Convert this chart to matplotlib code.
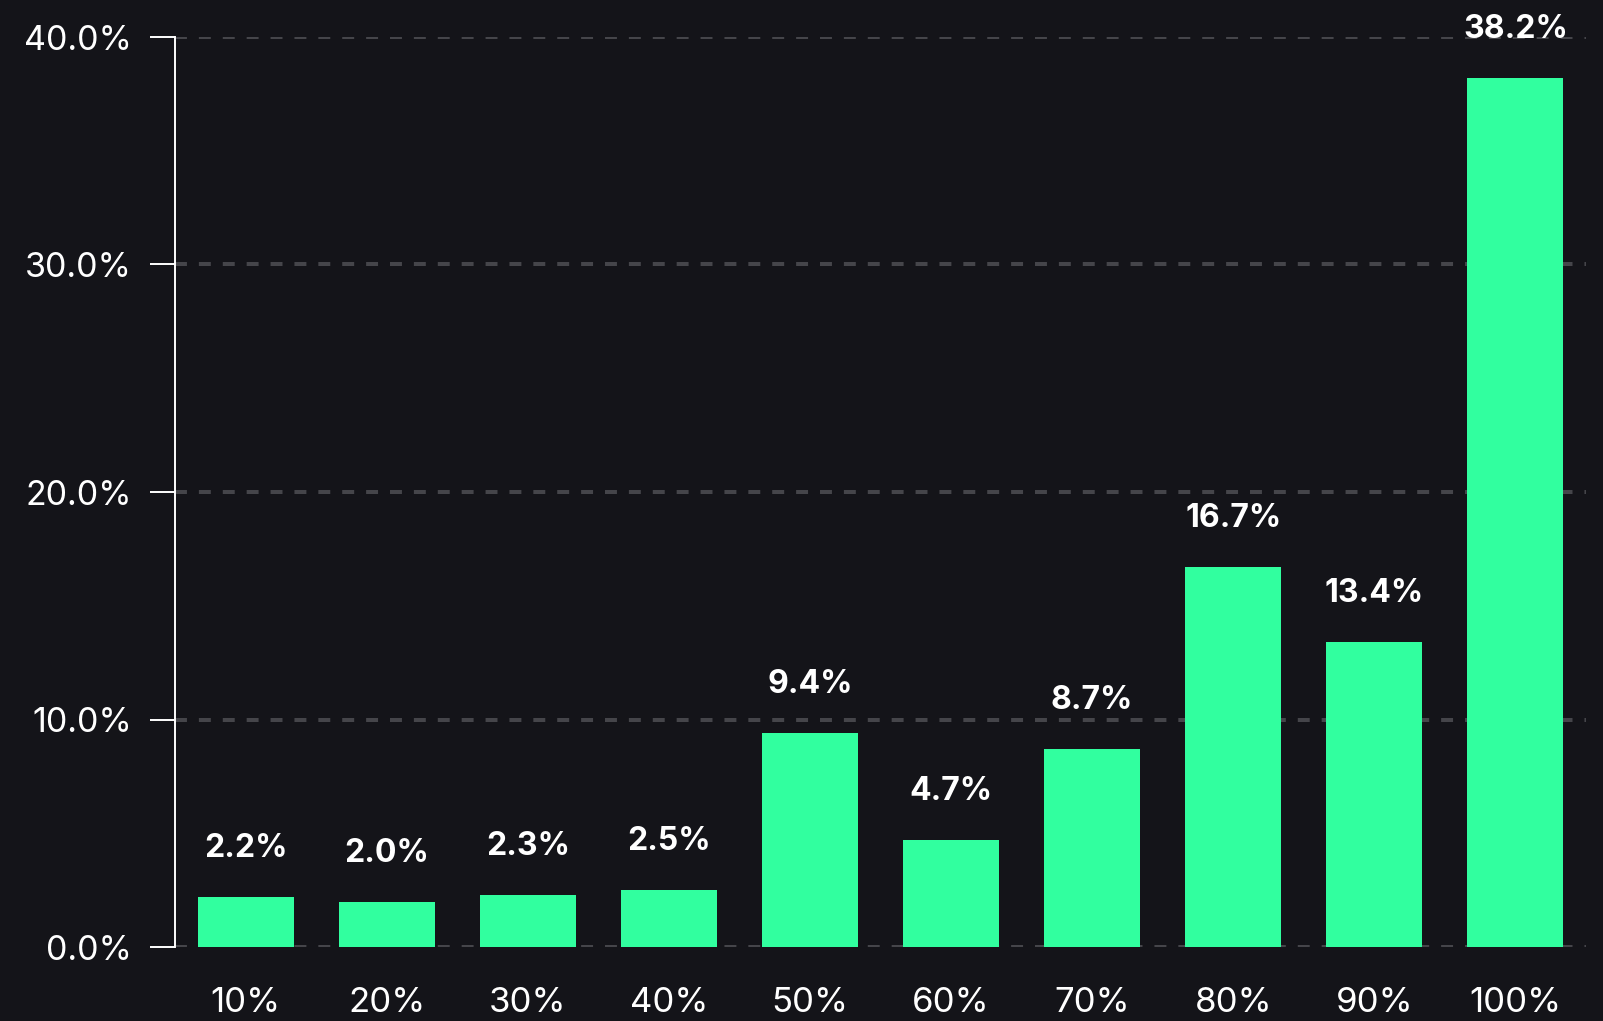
import matplotlib
matplotlib.use("Agg")
import matplotlib.pyplot as plt
import numpy as np

categories = ["10%", "20%", "30%", "40%", "50%", "60%", "70%", "80%", "90%", "100%"]
values = [2.2, 2.0, 2.3, 2.5, 9.4, 4.7, 8.7, 16.7, 13.4, 38.2]
yticks = [0, 10, 20, 30, 40]

BG = "#141419"
BAR = "#31ff9f"
GRID = "#45454a"

plt.rcParams["font.family"] = ["Inter", "DejaVu Sans"]
plt.rcParams["lines.scale_dashes"] = False

fig = plt.figure(figsize=(16.03, 10.21), dpi=100, facecolor=BG)
ax = fig.add_axes([175/1603, 74/1021, (1586-175)/1603, (947-37)/1021])
ax.set_facecolor(BG)

x = np.arange(len(categories))
ax.bar(x, values, width=0.68, color=BAR, zorder=2)

for xi, v in zip(x, values):
    ax.annotate(f"{v:.1f}%", (xi, v), xytext=(0, 28.8), textcoords="offset points",
                ha="center", va="baseline", color="white", fontsize=23,
                fontweight="bold", clip_on=False, zorder=4)

ax.set_xlim(-0.5, 9.5)
ax.set_ylim(0, 40)
ax.set_yticks(yticks)
ax.set_yticklabels([f"{t:.1f}%" for t in yticks])
ax.set_xticks(x)
ax.set_xticklabels(categories)

ax.yaxis.grid(True, color=GRID, linewidth=2.9, linestyle=(0, (8.6, 8.6)), zorder=1)
ax.set_axisbelow(True)

for s in ["top", "right", "bottom"]:
    ax.spines[s].set_visible(False)
ax.spines["left"].set_color("white")
ax.spines["left"].set_linewidth(1.4)

ax.tick_params(axis="y", colors="white", labelsize=24.5, length=18, width=1.4, pad=13)
ax.tick_params(axis="x", colors="white", labelsize=25, length=0, pad=29)

fig.savefig("out.png", dpi=100, facecolor=BG)
